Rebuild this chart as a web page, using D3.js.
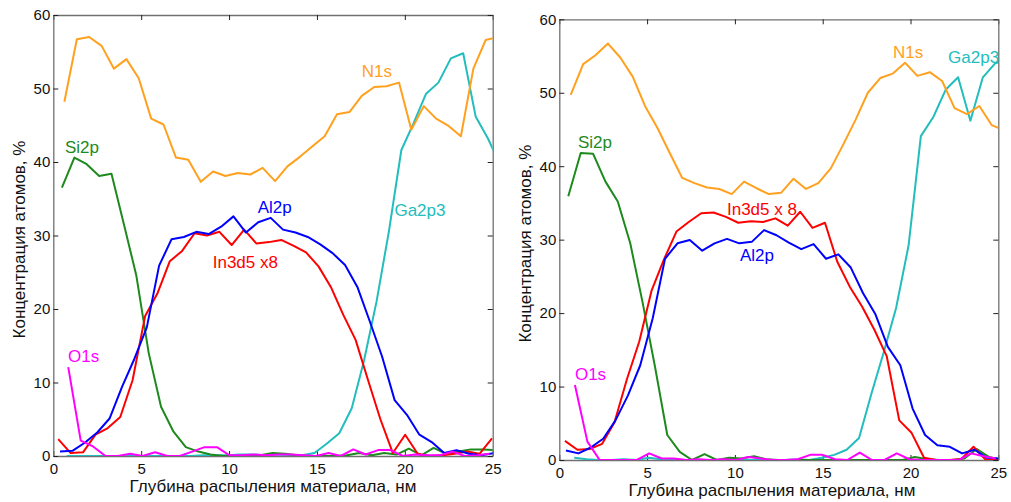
<!DOCTYPE html>
<html>
<head>
<meta charset="utf-8">
<script src="https://cdn.jsdelivr.net/npm/d3@7"></script>
<style>
  body { margin: 0; background: #fff; }
  svg text { font-family: "Liberation Sans", Arial, sans-serif; }
</style>
</head>
<body>
<div class="visHolder"></div>
<script>
const w = 1011, h = 502;

// sputtering steps, nm (each element is measured a bit later in the cycle -> shift)
const depthSteps = [0, 0.71, 1.41, 2.12, 2.82, 3.53, 4.23, 4.94, 5.64, 6.35, 7.05, 7.76,
  8.46, 9.17, 9.87, 10.58, 11.28, 11.99, 12.69, 13.40, 14.10, 14.81, 15.51, 16.22,
  16.92, 17.63, 18.33, 19.04, 19.74, 20.45, 21.15, 21.86, 22.56, 23.27, 23.97, 24.68];

const xTicks = [0, 5, 10, 15, 20, 25];
const yTicks = [0, 10, 20, 30, 40, 50, 60];
const xTitle = 'Глубина распыления материала, нм';
const yTitle = 'Концентрация атомов, %';

// draw order
const seriesNames = ['Ga2p3', 'Si2p', 'In3d5', 'Al2p', 'N1s', 'O1s'];
const seriesColors = {
  N1s: '#ffa11f', Si2p: '#1e8a1e', Al2p: '#0000ff',
  In3d5: '#ff0000', Ga2p3: '#22bdbd', O1s: '#ff00ff'
};

// ---- left panel
const leftShift = { N1s: 0.63, Si2p: 0.49, Al2p: 0.38, In3d5: 0.28, Ga2p3: 0.76, O1s: 0.85 };
const leftN1s = [48.2, 56.7, 57.0, 55.8, 52.7, 54.0, 51.4, 45.9, 45.1, 40.6, 40.3, 37.3,
  38.7, 38.1, 38.5, 38.3, 39.2, 37.4, 39.4, 40.7, 42.1, 43.5, 46.5, 46.8,
  49.0, 50.2, 50.3, 50.8, 44.4, 47.6, 45.9, 44.9, 43.5, 52.7, 56.6, 57.0];
const leftSi2p = [36.5, 40.6, 39.7, 38.1, 38.4, 31.5, 24.6, 14.0, 6.7, 3.3, 1.2, 0.6,
  0.2, 0, 0, 0, 0.1, 0.4, 0.3, 0.1, 0, 0, 0, 0.1,
  0.4, 0.1, 0.4, 0.2, 1.0, 0.1, 1.1, 0.3, 0.6, 0.9, 0.9, 0.8];
const leftAl2p = [0.6, 0.7, 1.8, 3.2, 5.1, 9.4, 13.2, 17.5, 25.9, 29.5, 29.8, 30.5,
  30.2, 31.2, 32.6, 30.4, 31.8, 32.4, 30.8, 30.4, 29.8, 28.8, 27.6, 26.0,
  23.0, 18.3, 13.5, 7.6, 5.6, 2.9, 1.9, 0.4, 0.8, 0.3, 0.1, 0.4];
const leftIn3d5 = [2.3, 0.4, 0.5, 2.9, 3.8, 5.3, 10.3, 19.0, 22.1, 26.5, 27.9, 30.3,
  30.0, 30.5, 28.7, 30.8, 28.9, 29.1, 29.4, 28.6, 27.7, 25.8, 23.0, 19.2,
  15.8, 10.3, 5.0, 0.4, 2.9, 0.3, 0, 0.1, 0.3, 0.6, 0.3, 2.4];
const leftGa2p3 = [0, 0, 0, 0, 0, 0, 0, 0, 0, 0, 0, 0.1,
  0.1, 0.1, 0.2, 0.2, 0.1, 0.2, 0.1, 0.1, 0.4, 1.7, 3.1, 6.5,
  13.0, 21.0, 30.5, 41.6, 45.3, 49.3, 50.8, 54.1, 54.8, 46.2, 43.2, 39.5];
const leftO1s = [12.1, 2.1, 1.3, 0, 0, 0.3, 0, 0.5, 0, 0, 0.6, 1.2,
  1.2, 0.1, 0.1, 0.2, 0.1, 0.2, 0.2, 0.1, 0, 0.4, 0, 0.9,
  0.2, 0.8, 0.8, 0, 0.2, 0.1, 0.1, 0.6, 0, 0.1, 0.3];

// ---- right panel
const rightShift = { N1s: 0.65, Si2p: 0.51, Al2p: 0.38, In3d5: 0.32, Ga2p3: 0.85, O1s: 0.89 };
const rightN1s = [49.7, 53.9, 55.1, 56.7, 54.8, 52.2, 48.2, 45.2, 41.8, 38.4, 37.7, 37.1,
  36.9, 36.2, 37.9, 37.0, 36.2, 36.4, 38.3, 36.9, 37.7, 39.7, 42.9, 46.3,
  50.0, 52.0, 52.6, 54.1, 52.3, 52.8, 51.6, 47.9, 47.1, 48.2, 45.6, 44.9];
const rightSi2p = [35.9, 41.8, 41.7, 37.9, 35.2, 29.5, 21.5, 12.7, 3.4, 1.1, 0, 0.8,
  0, 0.3, 0.2, 0.5, 0.1, 0, 0, 0, 0, 0, 0, 0,
  0, 0, 0, 0, 0.4, 0.1, 0, 0, 0.2, 1.5, 0.4, 0];
const rightAl2p = [1.3, 0.9, 1.7, 2.9, 5.4, 8.8, 12.9, 19.3, 27.4, 29.5, 29.95, 28.5,
  29.5, 30.1, 29.5, 29.7, 31.3, 30.6, 29.6, 28.7, 29.4, 27.4, 28.0, 26.2,
  22.7, 19.8, 15.4, 12.9, 7.0, 3.4, 2.0, 1.8, 0.9, 1.4, 0.3, 0.2];
const rightIn3d5 = [2.6, 1.4, 1.5, 2.2, 5.1, 11.0, 16.1, 23.1, 27.3, 31.1, 32.4, 33.6,
  33.7, 33.1, 32.3, 32.5, 32.4, 32.9, 31.9, 33.8, 31.6, 32.3, 27.0, 23.6,
  20.9, 17.7, 14.1, 5.4, 3.7, 0.3, 0, 0, 0.1, 1.8, 0, 0];
const rightGa2p3 = [0.3, 0.1, 0, 0, 0.1, 0, 0.3, 0.1, 0, 0, 0, 0,
  0, 0, 0, 0, 0, 0, 0.1, 0, 0.3, 0.7, 1.4, 3.0,
  9.0, 14.7, 20.7, 29.2, 44.1, 46.7, 50.4, 52.1, 46.2, 52.1, 54.0, 54.5];
const rightO1s = [10.2, 2.5, 0, 0, 0, 0, 0.9, 0.2, 0.2, 0, 0.1, 0,
  0.1, 0, 0.4, 0.2, 0, 0, 0.1, 0.7, 0.7, 0.1, 0, 1.0,
  0, 0, 0.9, 0.1, 0, 0, 0, 0, 0.9, 0.5, 0.2];

// annotation anchors in data units [depth, %]
const leftLabels = [
  { name: 'N1s', text: 'N1s', at: [17.55, 51.6] },
  { name: 'Si2p', text: 'Si2p', at: [0.66, 41.2] },
  { name: 'Al2p', text: 'Al2p', at: [11.63, 33.1] },
  { name: 'Ga2p3', text: 'Ga2p3', at: [19.41, 32.6] },
  { name: 'In3d5', text: 'In3d5 x8', at: [9.07, 25.6] },
  { name: 'O1s', text: 'O1s', at: [0.84, 12.8] }
];
const rightLabels = [
  { name: 'N1s', text: 'N1s', at: [19.0, 54.7] },
  { name: 'Ga2p3', text: 'Ga2p3', at: [22.14, 54.0] },
  { name: 'Si2p', text: 'Si2p', at: [1.06, 42.5] },
  { name: 'In3d5', text: 'In3d5 x 8', at: [9.55, 33.4] },
  { name: 'Al2p', text: 'Al2p', at: [10.29, 27.1] },
  { name: 'O1s', text: 'O1s', at: [0.89, 10.9] }
];

const panels = [
  { id: 'left', box: { x0: 53.3, x1: 492.7, y0: 15, y1: 456 }, titleX: 273, titleY: 492, yTitleX: 25,
    shift: leftShift, labels: leftLabels,
    series: { N1s: leftN1s, Si2p: leftSi2p, Al2p: leftAl2p, In3d5: leftIn3d5, Ga2p3: leftGa2p3, O1s: leftO1s } },
  { id: 'right', box: { x0: 559.3, x1: 998.3, y0: 19.3, y1: 460 }, titleX: 772, titleY: 496, yTitleX: 531,
    shift: rightShift, labels: rightLabels,
    series: { N1s: rightN1s, Si2p: rightSi2p, Al2p: rightAl2p, In3d5: rightIn3d5, Ga2p3: rightGa2p3, O1s: rightO1s } }
];

const svg = d3.select('.visHolder')
  .append('svg')
  .attr('width', w)
  .attr('height', h)
  .attr('viewBox', `0 0 ${w} ${h}`);

const buildPanel = (p) => {
  const b = p.box;
  const xScale = d3.scaleLinear().domain([0, 25]).range([b.x0, b.x1]);
  const yScale = d3.scaleLinear().domain([0, 60]).range([b.y1, b.y0]);

  const g = svg.append('g').attr('id', p.id);

  g.append('clipPath').attr('id', 'clip-' + p.id)
    .append('rect')
    .attr('x', b.x0).attr('y', b.y0 - 2)
    .attr('width', b.x1 - b.x0).attr('height', b.y1 - b.y0 + 2);

  // inward ticks on all four sides
  const axes = [
    { ax: d3.axisBottom(xScale).tickValues(xTicks).tickSize(-5).tickPadding(7), t: `translate(0,${b.y1})`, lab: true },
    { ax: d3.axisTop(xScale).tickValues(xTicks).tickSize(-5).tickFormat(''), t: `translate(0,${b.y0})` },
    { ax: d3.axisLeft(yScale).tickValues(yTicks).tickSize(-5).tickPadding(3), t: `translate(${b.x0},0)`, lab: true },
    { ax: d3.axisRight(yScale).tickValues(yTicks).tickSize(-5).tickFormat(''), t: `translate(${b.x1},0)` }
  ];
  axes.forEach(a => {
    const ag = g.append('g')
      .attr('transform', a.t)
      .call(a.ax.tickSizeOuter(0));
    ag.select('.domain').attr('stroke', '#707070').attr('stroke-width', 1.3);
    ag.selectAll('.tick line').attr('stroke', '#222');
    ag.selectAll('text').attr('fill', '#111').style('font-size', '15px');
  });

  const lines = g.append('g').attr('clip-path', `url(#clip-${p.id})`);
  seriesNames.forEach(name => {
    const vals = p.series[name];
    const line = d3.line()
      .x((d, i) => xScale(depthSteps[i] + p.shift[name]))
      .y(d => yScale(d));
    lines.append('path')
      .datum(vals)
      .attr('d', line)
      .attr('fill', 'none')
      .attr('stroke', seriesColors[name])
      .attr('stroke-width', 2)
      .attr('stroke-linejoin', 'round');
  });

  g.selectAll('.series-label')
    .data(p.labels)
    .enter()
    .append('text')
    .attr('class', 'series-label')
    .attr('x', d => xScale(d.at[0]))
    .attr('y', d => yScale(d.at[1]))
    .style('font-size', '17px')
    .attr('fill', d => seriesColors[d.name])
    .text(d => d.text);

  g.append('text')
    .attr('x', p.titleX)
    .attr('y', p.titleY)
    .attr('text-anchor', 'middle')
    .style('font-size', '17px')
    .attr('fill', '#111')
    .text(xTitle);

  g.append('text')
    .attr('transform', `translate(${p.yTitleX},${(b.y0 + b.y1) / 2 + 4}) rotate(-90)`)
    .attr('text-anchor', 'middle')
    .style('font-size', '17px')
    .attr('fill', '#111')
    .text(yTitle);
};

panels.forEach(buildPanel);
</script>
</body>
</html>
